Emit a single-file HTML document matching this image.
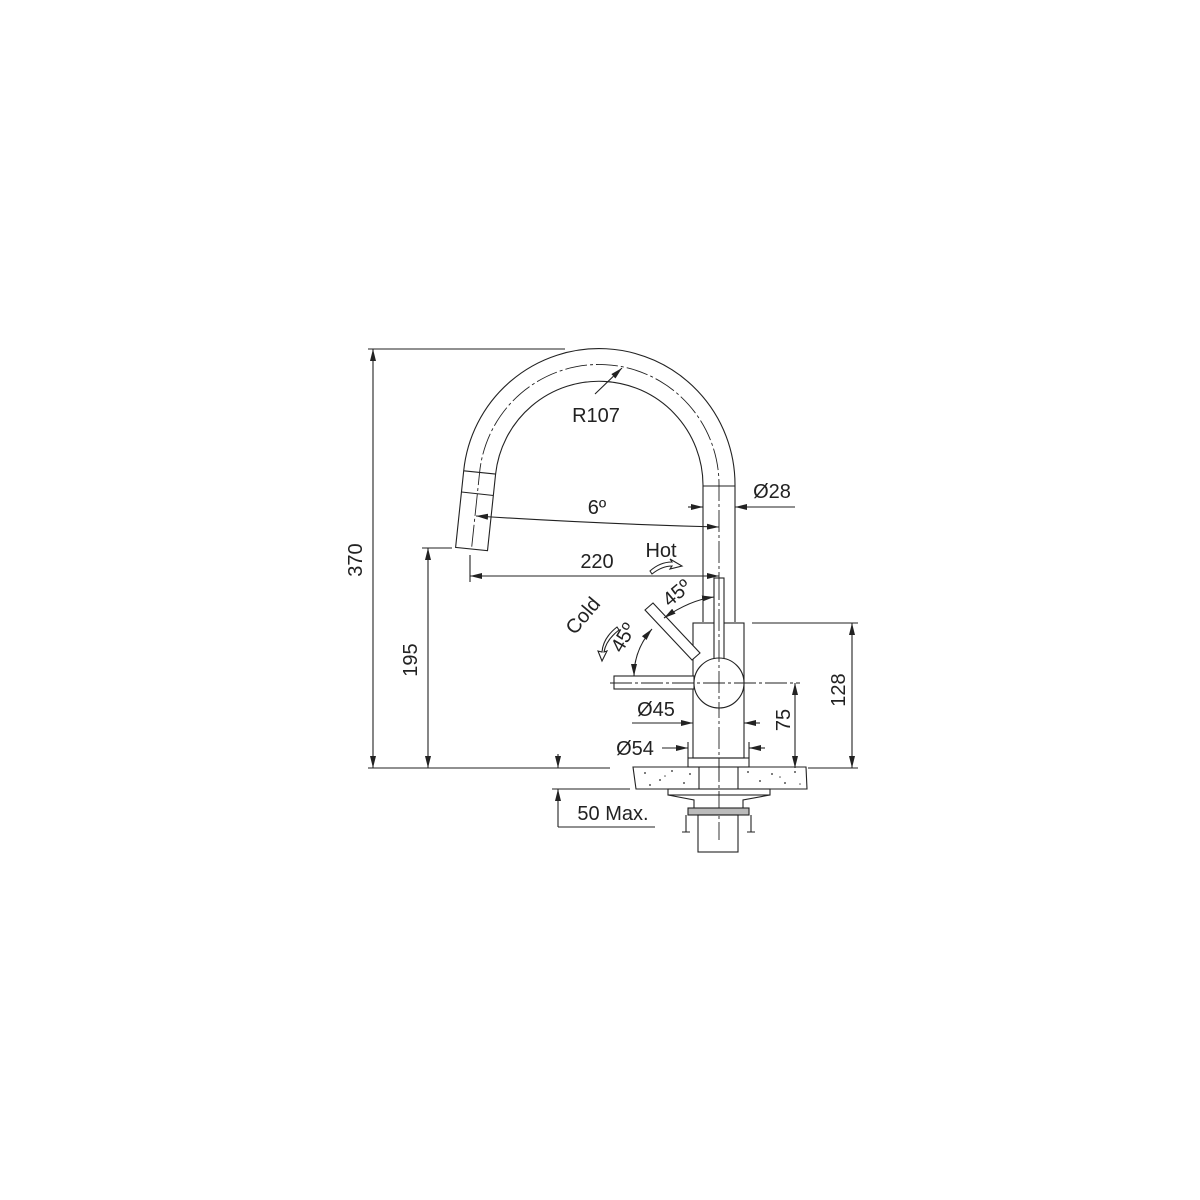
<!DOCTYPE html>
<html><head><meta charset="utf-8"><style>
html,body{margin:0;padding:0;background:#fff;}
svg{display:block;}
text{font-family:"Liberation Sans",Arial,sans-serif;font-size:20px;fill:#222;}
</style></head><body>
<svg width="1200" height="1200" viewBox="0 0 1200 1200" xmlns="http://www.w3.org/2000/svg">
<defs>
<marker id="a" viewBox="0 0 12 6" refX="12" refY="3" markerWidth="12" markerHeight="6" orient="auto-start-reverse" markerUnits="userSpaceOnUse"><path d="M0,0 L12,3 L0,6 z" fill="#222"/></marker>
</defs>
<g stroke="#222" stroke-width="1.1" fill="none">
<path d="M735,622 L735,485 A136,136 0 0 0 463.7,470.8 L455.6,547.4 L487.5,550.7 L495.6,474.1 A104,104 0 0 1 703,485 L703,622"/>
<line x1="703" y1="486" x2="735" y2="486"/>
<line x1="461.5" y1="492" x2="493.5" y2="495.5"/>
<line x1="463.7" y1="470.8" x2="495.6" y2="474.1"/>
<path d="M719,780 L719,485 A120,120 0 0 0 479.6,472.5 L471.5,549" stroke-dasharray="22,3,3,3" stroke-width="0.9"/>
<line x1="719" y1="760" x2="719" y2="840" stroke-dasharray="22,3,3,3" stroke-width="0.9"/>
<rect x="693" y="623" width="51" height="135"/>
<rect x="688" y="758" width="61" height="9"/>
<rect x="714" y="578" width="10" height="82" fill="#fff"/>
<path d="M653,603 L700,653 L692,660 L645,610 Z" fill="#fff"/>
<rect x="614" y="676" width="80" height="13" fill="#fff"/>
<circle cx="719" cy="683" r="25" fill="#fff"/>
<line x1="610" y1="683" x2="800" y2="683" stroke-dasharray="22,3,3,3" stroke-width="0.9"/>
<line x1="719" y1="578" x2="719" y2="710" stroke-dasharray="22,3,3,3" stroke-width="0.9"/>
<path d="M633,767 L699,767 L699,789 L636,789 Z"/>
<path d="M738,767 L806,767 L807,789 L738,789 Z"/>
<line x1="699" y1="767" x2="738" y2="767"/>
<rect x="668" y="789" width="102" height="6"/>
<path d="M668,795 L694,800 L694,808 M770,795 L743,800 L743,808"/>
<rect x="688" y="808" width="61" height="7" fill="#bbb"/>
<path d="M686,815 L686,832 M751,815 L751,832 M682,832 L690,832 M747,832 L755,832"/>
<rect x="698" y="815" width="40" height="37"/>
<line x1="368" y1="349" x2="565" y2="349"/>
<line x1="368" y1="768" x2="610" y2="768"/>
<line x1="373" y1="349" x2="373" y2="768" marker-start="url(#a)" marker-end="url(#a)"/>
<line x1="422" y1="548" x2="452" y2="548"/>
<line x1="428" y1="548" x2="428" y2="768" marker-start="url(#a)" marker-end="url(#a)"/>
<line x1="470" y1="555" x2="470" y2="582"/>
<line x1="470" y1="576" x2="719" y2="576" marker-start="url(#a)" marker-end="url(#a)"/>
<path d="M476,516 Q600,524 719,527" marker-start="url(#a)" marker-end="url(#a)"/>
<line x1="688" y1="507" x2="703" y2="507" marker-end="url(#a)"/>
<line x1="795" y1="507" x2="735" y2="507" marker-end="url(#a)"/>
<line x1="595" y1="394" x2="622" y2="368" marker-end="url(#a)"/>
<path d="M664,618 Q690,600 714,597" marker-start="url(#a)" marker-end="url(#a)"/>
<path d="M652,629 Q634,650 634,676" marker-start="url(#a)" marker-end="url(#a)"/>
<path d="M650,571 Q660,562 672,562 L670,559 L682,566 L670,569 L672,566 Q662,566 652,574 Z" fill="#fff"/>
<path d="M617,627 Q603,638 602,652 L598,651 L602,661 L607,651 L604,652 Q606,640 619,630 Z" fill="#fff"/>
<line x1="752" y1="623" x2="858" y2="623"/>
<line x1="808" y1="768" x2="858" y2="768"/>
<line x1="852" y1="623" x2="852" y2="768" marker-start="url(#a)" marker-end="url(#a)"/>
<line x1="795" y1="683" x2="795" y2="768" marker-start="url(#a)" marker-end="url(#a)"/>
<line x1="632" y1="723" x2="693" y2="723" marker-end="url(#a)"/>
<line x1="760" y1="723" x2="744" y2="723" marker-end="url(#a)"/>
<line x1="662" y1="748" x2="688" y2="748" marker-end="url(#a)"/>
<line x1="765" y1="748" x2="749" y2="748" marker-end="url(#a)"/>
<line x1="688" y1="742" x2="688" y2="758"/>
<line x1="749" y1="742" x2="749" y2="758"/>
<line x1="552" y1="789" x2="630" y2="789"/>
<line x1="558" y1="754" x2="558" y2="768" marker-end="url(#a)"/>
<line x1="558" y1="827" x2="558" y2="789" marker-end="url(#a)"/>
<line x1="558" y1="827" x2="655" y2="827"/>
</g>
<g fill="#555">
<circle cx="645" cy="773" r="1"/><circle cx="660" cy="780" r="1"/><circle cx="672" cy="771" r="1"/><circle cx="684" cy="783" r="1"/><circle cx="650" cy="785" r="1"/><circle cx="690" cy="774" r="1"/><circle cx="665" cy="776" r="0.8"/>
<circle cx="748" cy="772" r="1"/><circle cx="760" cy="781" r="1"/><circle cx="772" cy="774" r="1"/><circle cx="785" cy="783" r="1"/><circle cx="795" cy="772" r="1"/><circle cx="780" cy="777" r="0.8"/><circle cx="800" cy="784" r="0.8"/>
</g>
<text x="355" y="560" text-anchor="middle" transform="rotate(-90 355 560)" dy="7">370</text>
<text x="410" y="660" text-anchor="middle" transform="rotate(-90 410 660)" dy="7">195</text>
<text x="597" y="568" text-anchor="middle">220</text>
<text x="597" y="514" text-anchor="middle">6º</text>
<text x="596" y="422" text-anchor="middle">R107</text>
<text x="772" y="498" text-anchor="middle">Ø28</text>
<text x="661" y="557" text-anchor="middle">Hot</text>
<text x="681" y="598" text-anchor="middle" transform="rotate(-40 681 598)">45º</text>
<text x="629" y="641" text-anchor="middle" transform="rotate(-60 629 641)">45º</text>
<text x="588" y="620" text-anchor="middle" transform="rotate(-50 588 620)">Cold</text>
<text x="838" y="690" text-anchor="middle" transform="rotate(-90 838 690)" dy="7">128</text>
<text x="783" y="720" text-anchor="middle" transform="rotate(-90 783 720)" dy="7">75</text>
<text x="656" y="716" text-anchor="middle">Ø45</text>
<text x="635" y="755" text-anchor="middle">Ø54</text>
<text x="613" y="820" text-anchor="middle">50 Max.</text>
</svg>
</body></html>
